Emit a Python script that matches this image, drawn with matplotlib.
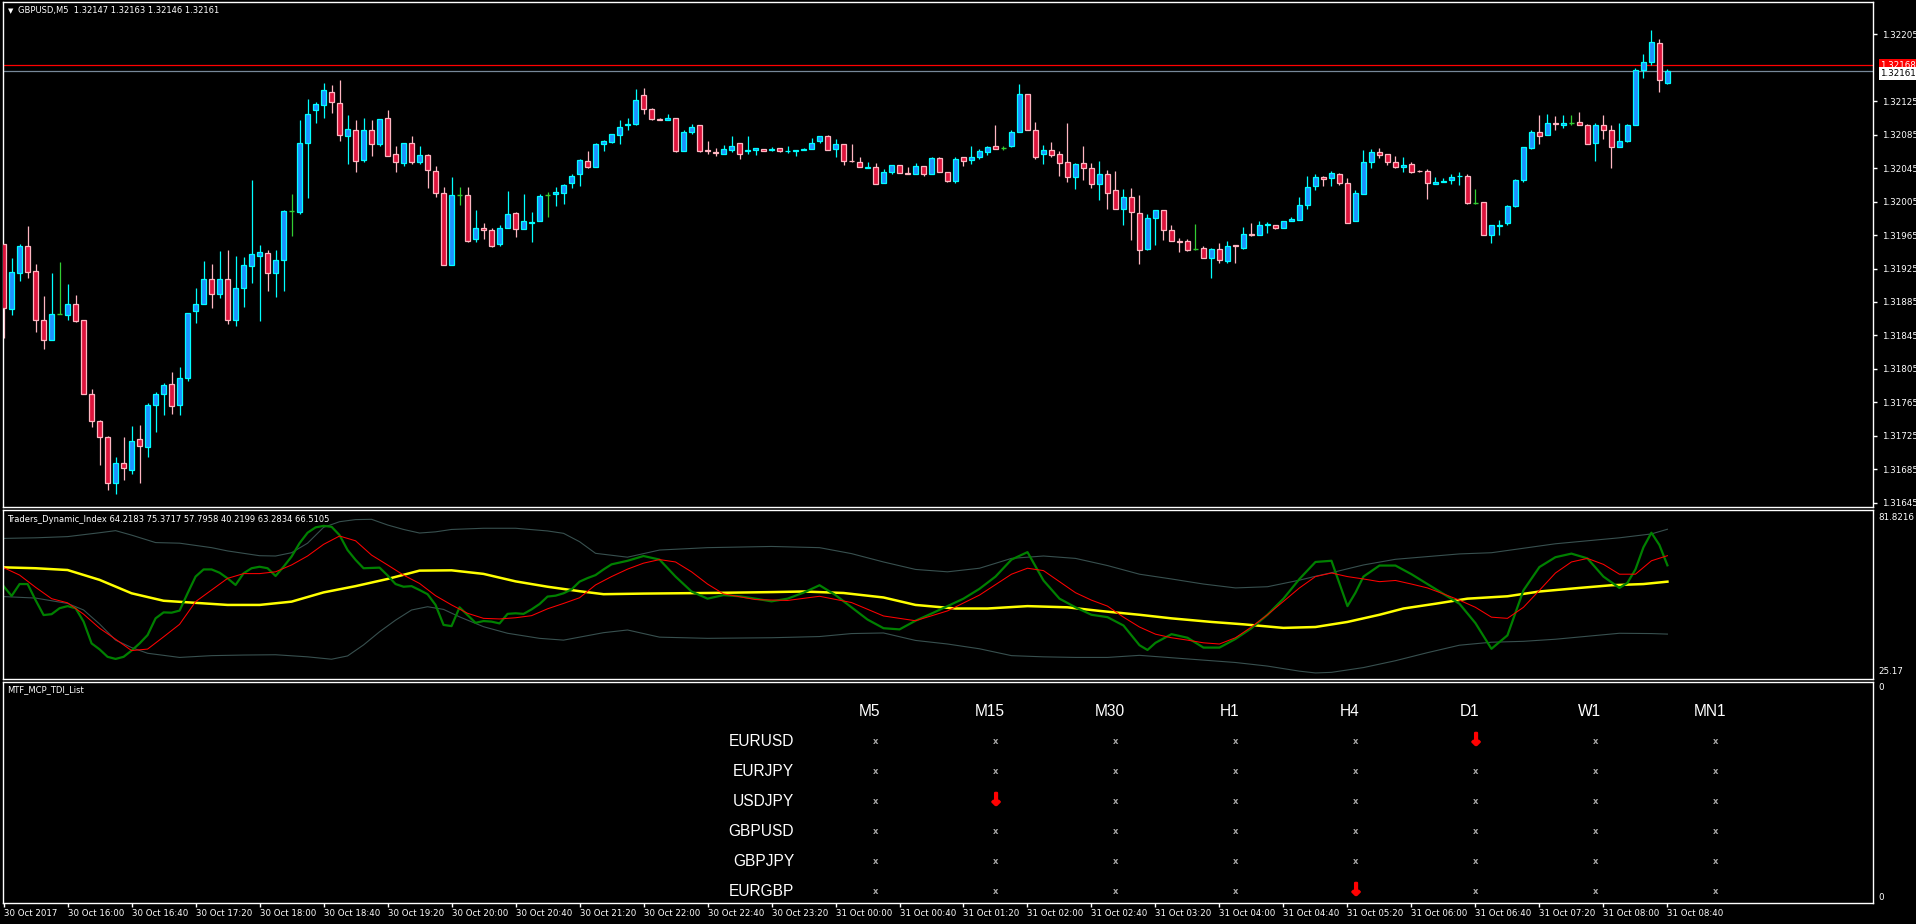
import matplotlib
matplotlib.use('Agg')
import matplotlib.pyplot as plt
import matplotlib.patheffects as pe
from matplotlib.patches import Rectangle

W, H = 1916, 924

# GBPUSD M5 bars, 30 Oct 2017 15:20 .. 31 Oct 2017 08:40
opens = [1.31954, 1.31877, 1.31920, 1.31952, 1.31922, 1.31863, 1.31839, 1.31871, 1.31870, 1.31883,
         1.31864, 1.31775, 1.31743, 1.31724, 1.31668, 1.31692, 1.31684, 1.31721, 1.31712, 1.31762,
         1.31775, 1.31787, 1.31762, 1.31794, 1.31874, 1.31882, 1.31913, 1.31895, 1.31913, 1.31864,
         1.31902, 1.31928, 1.31940, 1.31943, 1.31920, 1.31935, 1.31994, 1.31992, 1.32075, 1.32115,
         1.32121, 1.32136, 1.32123, 1.32084, 1.32091, 1.32055, 1.32091, 1.32074, 1.32105, 1.32062,
         1.32051, 1.32075, 1.32052, 1.32061, 1.32042, 1.32015, 1.31929, 1.32013, 1.32013, 1.31960,
         1.31974, 1.31971, 1.31954, 1.31974, 1.31991, 1.31972, 1.31980, 1.31982, 1.32013, 1.32014,
         1.32015, 1.32027, 1.32038, 1.32054, 1.32046, 1.32074, 1.32076, 1.32085, 1.32096, 1.32098,
         1.32132, 1.32116, 1.32104, 1.32103, 1.32105, 1.32066, 1.32088, 1.32096, 1.32067, 1.32064,
         1.32062, 1.32067, 1.32075, 1.32066, 1.32067, 1.32068, 1.32067, 1.32069, 1.32065, 1.32066,
         1.32067, 1.32068, 1.32078, 1.32084, 1.32068, 1.32074, 1.32054, 1.32052, 1.32045, 1.32046,
         1.32027, 1.32040, 1.32049, 1.32039, 1.32038, 1.32048, 1.32038, 1.32057, 1.32040, 1.32030,
         1.32058, 1.32055, 1.32058, 1.32064, 1.32072, 1.32069, 1.32072, 1.32088, 1.32134, 1.32090,
         1.32062, 1.32067, 1.32062, 1.32052, 1.32034, 1.32051, 1.32045, 1.32026, 1.32038, 1.32019,
         1.31996, 1.32010, 1.31991, 1.31948, 1.31985, 1.31995, 1.31971, 1.31958, 1.31958, 1.31948,
         1.31949, 1.31938, 1.31948, 1.31934, 1.31953, 1.31950, 1.31966, 1.31965, 1.31977, 1.31977,
         1.31974, 1.31982, 1.31983, 1.32001, 1.32024, 1.32034, 1.32033, 1.32038, 1.32027, 1.31982,
         1.32014, 1.32052, 1.32064, 1.32062, 1.32052, 1.32046, 1.32050, 1.32042, 1.32042, 1.32026,
         1.32029, 1.32031, 1.32035, 1.32036, 1.32003, 1.32004, 1.31965, 1.31976, 1.31979, 1.32000,
         1.32031, 1.32069, 1.32088, 1.32085, 1.32099, 1.32097, 1.32099, 1.32100, 1.32096, 1.32075,
         1.32097, 1.32090, 1.32070, 1.32078, 1.32097, 1.32162, 1.32172, 1.32195, 1.32147]
highs = [1.31954, 1.31938, 1.31954, 1.31976, 1.31930, 1.31892, 1.31920, 1.31933, 1.31906, 1.31893,
         1.31864, 1.31781, 1.31744, 1.31725, 1.31700, 1.31723, 1.31737, 1.31738, 1.31764, 1.31777,
         1.31788, 1.31801, 1.31807, 1.31872, 1.31902, 1.31934, 1.31930, 1.31946, 1.31947, 1.31940,
         1.31939, 1.32031, 1.31953, 1.31947, 1.31947, 1.31995, 1.32014, 1.32103, 1.32128, 1.32124,
         1.32147, 1.32144, 1.32150, 1.32109, 1.32102, 1.32105, 1.32103, 1.32104, 1.32115, 1.32072,
         1.32075, 1.32083, 1.32072, 1.32062, 1.32048, 1.32022, 1.32034, 1.32022, 1.32022, 1.31995,
         1.31980, 1.31974, 1.31977, 1.32018, 1.31992, 1.32014, 1.31992, 1.32014, 1.32017, 1.32023,
         1.32026, 1.32038, 1.32056, 1.32065, 1.32075, 1.32079, 1.32086, 1.32102, 1.32105, 1.32140,
         1.32141, 1.32117, 1.32105, 1.32110, 1.32105, 1.32090, 1.32098, 1.32097, 1.32078, 1.32069,
         1.32073, 1.32084, 1.32075, 1.32084, 1.32069, 1.32068, 1.32070, 1.32069, 1.32072, 1.32067,
         1.32069, 1.32081, 1.32084, 1.32085, 1.32080, 1.32074, 1.32074, 1.32058, 1.32052, 1.32051,
         1.32044, 1.32049, 1.32049, 1.32046, 1.32051, 1.32048, 1.32058, 1.32058, 1.32040, 1.32058,
         1.32058, 1.32072, 1.32068, 1.32072, 1.32097, 1.32072, 1.32090, 1.32146, 1.32134, 1.32100,
         1.32073, 1.32076, 1.32066, 1.32099, 1.32051, 1.32072, 1.32051, 1.32054, 1.32043, 1.32042,
         1.32020, 1.32021, 1.32013, 1.31990, 1.31995, 1.31995, 1.31977, 1.31961, 1.31960, 1.31978,
         1.31952, 1.31949, 1.31955, 1.31958, 1.31953, 1.31975, 1.31980, 1.31982, 1.31981, 1.31977,
         1.31982, 1.31987, 1.32010, 1.32036, 1.32038, 1.32036, 1.32041, 1.32039, 1.32033, 1.32019,
         1.32067, 1.32068, 1.32069, 1.32062, 1.32060, 1.32058, 1.32052, 1.32043, 1.32044, 1.32034,
         1.32033, 1.32038, 1.32040, 1.32038, 1.32020, 1.32004, 1.31977, 1.31983, 1.32001, 1.32032,
         1.32070, 1.32090, 1.32109, 1.32110, 1.32107, 1.32108, 1.32109, 1.32112, 1.32098, 1.32099,
         1.32109, 1.32097, 1.32099, 1.32098, 1.32165, 1.32182, 1.32210, 1.32199, 1.32163]
lows = [1.31842, 1.31869, 1.31910, 1.31914, 1.31849, 1.31829, 1.31839, 1.31871, 1.31864, 1.31861,
        1.31775, 1.31736, 1.31690, 1.31660, 1.31656, 1.31672, 1.31679, 1.31668, 1.31700, 1.31730,
        1.31750, 1.31751, 1.31750, 1.31791, 1.31860, 1.31882, 1.31878, 1.31890, 1.31859, 1.31856,
        1.31879, 1.31908, 1.31862, 1.31898, 1.31891, 1.31898, 1.31964, 1.31990, 1.32009, 1.32099,
        1.32105, 1.32111, 1.32078, 1.32050, 1.32040, 1.32052, 1.32060, 1.32072, 1.32060, 1.32040,
        1.32047, 1.32050, 1.32050, 1.32021, 1.32011, 1.31929, 1.31929, 1.32001, 1.31957, 1.31957,
        1.31960, 1.31951, 1.31952, 1.31973, 1.31963, 1.31972, 1.31957, 1.31982, 1.31987, 1.32000,
        1.32002, 1.32021, 1.32024, 1.32045, 1.32046, 1.32065, 1.32075, 1.32074, 1.32090, 1.32096,
        1.32110, 1.32103, 1.32102, 1.32102, 1.32064, 1.32066, 1.32086, 1.32064, 1.32062, 1.32060,
        1.32062, 1.32064, 1.32056, 1.32062, 1.32061, 1.32066, 1.32066, 1.32064, 1.32063, 1.32060,
        1.32067, 1.32068, 1.32075, 1.32067, 1.32058, 1.32049, 1.32052, 1.32046, 1.32045, 1.32026,
        1.32027, 1.32038, 1.32039, 1.32038, 1.32038, 1.32036, 1.32038, 1.32040, 1.32028, 1.32027,
        1.32048, 1.32050, 1.32056, 1.32061, 1.32068, 1.32067, 1.32070, 1.32088, 1.32090, 1.32056,
        1.32050, 1.32058, 1.32036, 1.32028, 1.32020, 1.32031, 1.32021, 1.32007, 1.31996, 1.31996,
        1.31977, 1.31959, 1.31930, 1.31947, 1.31953, 1.31959, 1.31958, 1.31945, 1.31946, 1.31947,
        1.31937, 1.31914, 1.31932, 1.31932, 1.31932, 1.31948, 1.31964, 1.31965, 1.31967, 1.31972,
        1.31973, 1.31982, 1.31983, 1.31996, 1.32019, 1.32024, 1.32024, 1.32025, 1.31980, 1.31982,
        1.32014, 1.32045, 1.32057, 1.32049, 1.32045, 1.32040, 1.32039, 1.32040, 1.32008, 1.32026,
        1.32028, 1.32026, 1.32025, 1.32002, 1.32002, 1.31965, 1.31956, 1.31965, 1.31977, 1.31998,
        1.32028, 1.32068, 1.32074, 1.32085, 1.32090, 1.32093, 1.32097, 1.32096, 1.32074, 1.32054,
        1.32080, 1.32045, 1.32070, 1.32076, 1.32097, 1.32153, 1.32168, 1.32136, 1.32146]
closes = [1.31878, 1.31921, 1.31952, 1.31921, 1.31863, 1.31840, 1.31871, 1.31871, 1.31883, 1.31862,
          1.31775, 1.31743, 1.31724, 1.31668, 1.31692, 1.31686, 1.31719, 1.31713, 1.31762, 1.31775,
          1.31786, 1.31761, 1.31794, 1.31872, 1.31882, 1.31913, 1.31895, 1.31913, 1.31863, 1.31902,
          1.31929, 1.31942, 1.31945, 1.31920, 1.31935, 1.31994, 1.31994, 1.32075, 1.32110, 1.32122,
          1.32138, 1.32124, 1.32085, 1.32092, 1.32054, 1.32091, 1.32074, 1.32104, 1.32060, 1.32052,
          1.32075, 1.32052, 1.32061, 1.32043, 1.32015, 1.31929, 1.32013, 1.32013, 1.31958, 1.31973,
          1.31971, 1.31952, 1.31974, 1.31990, 1.31972, 1.31982, 1.31981, 1.32012, 1.32013, 1.32016,
          1.32025, 1.32036, 1.32055, 1.32046, 1.32074, 1.32078, 1.32086, 1.32094, 1.32098, 1.32126,
          1.32116, 1.32104, 1.32103, 1.32105, 1.32066, 1.32088, 1.32094, 1.32066, 1.32065, 1.32063,
          1.32068, 1.32072, 1.32062, 1.32067, 1.32069, 1.32066, 1.32068, 1.32066, 1.32066, 1.32067,
          1.32068, 1.32075, 1.32084, 1.32067, 1.32074, 1.32054, 1.32053, 1.32046, 1.32046, 1.32026,
          1.32040, 1.32049, 1.32039, 1.32038, 1.32048, 1.32038, 1.32057, 1.32040, 1.32030, 1.32056,
          1.32054, 1.32058, 1.32066, 1.32070, 1.32068, 1.32069, 1.32088, 1.32134, 1.32090, 1.32058,
          1.32067, 1.32061, 1.32051, 1.32034, 1.32050, 1.32045, 1.32026, 1.32038, 1.32015, 1.31996,
          1.32010, 1.31992, 1.31947, 1.31985, 1.31995, 1.31971, 1.31958, 1.31957, 1.31947, 1.31948,
          1.31938, 1.31948, 1.31935, 1.31952, 1.31952, 1.31966, 1.31965, 1.31977, 1.31978, 1.31974,
          1.31982, 1.31984, 1.32001, 1.32022, 1.32034, 1.32032, 1.32039, 1.32027, 1.31980, 1.32015,
          1.32052, 1.32064, 1.32061, 1.32052, 1.32046, 1.32049, 1.32040, 1.32041, 1.32027, 1.32028,
          1.32030, 1.32034, 1.32036, 1.32003, 1.32003, 1.31965, 1.31977, 1.31977, 1.32000, 1.32031,
          1.32070, 1.32088, 1.32084, 1.32099, 1.32098, 1.32099, 1.32099, 1.32096, 1.32074, 1.32096,
          1.32090, 1.32070, 1.32078, 1.32097, 1.32162, 1.32172, 1.32196, 1.32150, 1.32161]

bid = 1.32161
ask = 1.32168
price_ticks = [1.32205, 1.32125, 1.32085, 1.32045, 1.32005, 1.31965, 1.31925, 1.31885,
               1.31845, 1.31805, 1.31765, 1.31725, 1.31685, 1.31645]

# Traders Dynamic Index (bar index, value)
green_bars = [0, 1, 2, 3, 4, 5, 6, 7, 8, 9, 10, 11, 12, 13, 14, 15, 16, 17, 18, 19,
              20, 21, 22, 23, 24, 25, 26, 27, 28, 29, 30, 31, 32, 33, 34, 35, 36, 37, 38, 39,
              40, 41, 42, 43, 44, 45, 46, 47, 48, 49, 50, 51, 52, 53, 54, 55, 56, 57, 58, 59,
              60, 61, 62, 63, 64, 65, 66, 67, 68, 69, 70, 71, 72, 73, 74, 75,
              76, 78, 80, 82, 84, 86, 88, 90, 92, 94, 96, 98, 100, 102, 104, 106, 108, 110,
              112, 114, 116, 118, 120, 122, 124, 126, 128, 130, 132, 134, 136, 138, 140, 142,
              143, 144, 146, 148, 150, 152, 154, 156, 158, 160, 162, 164, 166, 168, 169, 170,
              172, 174, 176, 178, 180, 182, 184, 186, 188, 190, 192, 194, 196, 198, 200, 202,
              203, 204, 205, 206, 207, 208]
green_vals = [56.3, 53.0, 57.0, 57.0, 51.6, 46.6, 46.9, 48.9, 49.6, 48.9,
              44.4, 37.1, 35.1, 32.6, 31.9, 32.6, 34.7, 37.1, 39.9, 45.5,
              47.5, 47.4, 48.1, 53.9, 59.5, 61.9, 61.9, 60.8, 58.9, 56.7,
              60.6, 62.3, 62.8, 62.3, 59.7, 62.8, 66.2, 70.7, 74.2, 76.0,
              76.5, 76.2, 73.4, 68.4, 65.1, 62.3, 62.4, 62.5, 59.9, 57.0,
              56.1, 56.3, 55.0, 53.6, 50.0, 43.3, 42.9, 49.2, 46.6, 44.0,
              44.6, 44.4, 43.8, 47.0, 47.2, 47.0, 48.5, 50.3, 52.8, 53.1,
              53.9, 55.2, 57.8, 59.0, 60.0, 61.9,
              63.6, 64.8, 66.4, 65.2, 59.5, 54.5, 52.1, 53.3, 52.9, 52.1, 51.2, 52.1, 54.1, 56.6,
              53.3, 49.2, 45.1, 42.2, 41.8, 44.7, 47.1, 49.6, 52.1, 55.4, 59.5, 65.2, 67.7, 58.2,
              52.1, 49.2, 46.7, 45.9, 43.1, 36.5, 34.9, 37.3, 40.2, 39.0, 35.7, 35.7, 38.6, 42.2,
              46.7, 52.1, 58.7, 64.4, 64.8, 49.6, 54.1, 59.5, 63.2, 63.2, 60.3, 57.0, 53.7, 50.4,
              43.9, 35.3, 39.8, 54.9, 62.7, 66.0, 67.2, 65.6, 59.5, 55.7, 57.4, 61.9, 69.3, 74.2,
              70.1, 63.28]

red_bars = [0, 2, 4, 6, 8, 10, 12, 14, 16, 18, 20, 22, 24, 26, 28, 30, 32, 34, 36, 38,
            40, 42, 44, 46, 48, 50, 52, 54, 56, 58, 60, 62, 64, 66, 68, 70, 72, 74, 76, 78,
            80, 82, 84, 86, 88, 90, 94, 98, 102, 106, 110, 114, 118, 122, 126, 128, 130, 132,
            134, 136, 138, 140, 142, 144, 146, 148, 150, 152, 154, 156, 158, 160, 162, 164,
            166, 168, 170, 172, 174, 176, 178, 180, 182, 184, 186, 188, 190, 192, 194, 196,
            198, 200, 202, 204, 206, 208]
red_vals = [62.5, 60.0, 55.9, 52.1, 50.7, 46.9, 42.2, 38.5, 34.7, 35.2, 39.3, 43.5, 51.1, 55.0,
            58.9, 60.5, 60.5, 61.1, 63.4, 66.4, 70.3, 73.1, 71.5, 66.7, 63.4, 60.0, 57.2, 53.1,
            50.0, 47.2, 45.5, 45.3, 45.7, 46.4, 48.7, 50.5, 52.4, 56.7, 59.5, 62.0, 64.0, 65.2,
            64.4, 61.1, 57.0, 53.7, 51.8, 51.5, 52.9, 50.8, 46.3, 44.7, 48.0, 53.3, 60.3, 62.3,
            61.5, 57.8, 54.1, 51.6, 49.6, 45.9, 42.6, 40.2, 39.0, 38.2, 37.3, 36.9, 39.0, 42.6,
            46.7, 51.2, 55.7, 59.5, 60.7, 59.5, 58.7, 57.8, 58.2, 57.0, 55.7, 53.7, 51.6, 49.2,
            45.9, 45.5, 49.2, 54.9, 60.7, 64.4, 65.6, 63.6, 60.3, 60.3, 64.8, 66.51]

mid_bars = [0, 4, 8, 12, 16, 20, 24, 28, 32, 36, 40, 44, 48, 52, 56, 60, 64, 68, 72, 75,
            80, 88, 96, 100, 105, 110, 114, 119, 123, 128, 133, 137, 142, 146, 151, 155, 160,
            164, 168, 172, 175, 179, 183, 188, 192, 197, 201, 205, 208]
mid_vals = [62.6, 62.3, 61.7, 58.4, 53.9, 51.4, 50.7, 50.0, 50.0, 51.1, 54.2, 56.3, 58.7, 61.5,
            61.6, 60.4, 57.9, 56.1, 54.6, 53.6, 53.8, 54.0, 54.3, 54.5, 54.0, 52.5, 50.0, 48.8,
            48.8, 49.6, 49.2, 48.0, 46.7, 45.5, 44.3, 43.5, 42.3, 42.6, 44.3, 46.7, 48.8, 50.4,
            52.1, 52.9, 54.5, 55.7, 56.6, 57.0, 57.80]

upper_bars = [0, 4, 8, 12, 14, 16, 19, 22, 26, 28, 32, 34, 36, 38, 40, 42, 44, 46, 48, 50,
              52, 54, 56, 60, 64, 68, 70, 72, 74, 78, 82, 88, 96, 102, 106, 110, 114, 118, 122,
              126, 130, 134, 138, 142, 146, 150, 154, 158, 162, 164, 166, 170, 174, 178, 182,
              186, 190, 194, 198, 202, 206, 208]
upper_vals = [72.3, 72.5, 72.9, 74.2, 74.9, 73.4, 70.9, 70.7, 69.2, 68.1, 66.5, 66.4, 67.5, 70.7,
              76.0, 77.9, 78.6, 78.7, 76.8, 75.3, 74.1, 74.5, 75.3, 75.7, 75.7, 74.8, 74.0, 71.2,
              67.3, 66.0, 68.4, 69.2, 69.6, 69.2, 67.2, 64.4, 61.9, 61.1, 62.3, 65.6, 66.4, 65.6,
              63.2, 60.3, 58.7, 57.0, 55.7, 56.1, 58.3, 59.6, 60.8, 63.4, 65.3, 66.2, 67.1, 67.5,
              69.0, 70.5, 71.5, 72.5, 73.8, 75.37]

lower_bars = [0, 4, 8, 10, 12, 14, 16, 18, 22, 26, 30, 34, 38, 41, 43, 45, 47, 49, 51, 53,
              55, 57, 60, 63, 67, 70, 73, 75, 78, 82, 88, 96, 102, 106, 110, 114, 118, 122, 126,
              130, 134, 138, 142, 146, 150, 154, 158, 162, 164, 166, 170, 174, 178, 182, 186,
              190, 194, 198, 202, 206, 208]
lower_vals = [52.8, 52.3, 50.5, 48.3, 43.6, 38.2, 35.7, 33.8, 32.4, 33.0, 33.2, 33.3, 32.6, 31.8,
              32.9, 36.6, 41.0, 44.9, 48.3, 49.4, 48.5, 46.0, 42.7, 40.5, 38.8, 38.2, 39.7, 40.7,
              41.6, 39.2, 38.8, 39.0, 39.4, 40.4, 40.6, 38.1, 36.9, 35.3, 33.0, 32.6, 32.4, 32.4,
              33.1, 32.3, 31.5, 30.7, 29.5, 27.8, 27.2, 27.4, 29.0, 31.3, 34.0, 36.5, 37.5, 37.8,
              38.5, 39.5, 40.5, 40.4, 40.22]
tdi_min, tdi_max = 25.17, 81.8216

# MTF table
symbols = ['EURUSD', 'EURJPY', 'USDJPY', 'GBPUSD', 'GBPJPY', 'EURGBP']
timeframes = ['M5', 'M15', 'M30', 'H1', 'H4', 'D1', 'W1', 'MN1']
down_signals = [('EURUSD', 'D1'), ('USDJPY', 'M15'), ('EURGBP', 'H4')]

time_labels = ['30 Oct 2017', '30 Oct 16:00', '30 Oct 16:40', '30 Oct 17:20', '30 Oct 18:00',
               '30 Oct 18:40', '30 Oct 19:20', '30 Oct 20:00', '30 Oct 20:40', '30 Oct 21:20',
               '30 Oct 22:00', '30 Oct 22:40', '30 Oct 23:20', '31 Oct 00:00', '31 Oct 00:40',
               '31 Oct 01:20', '31 Oct 02:00', '31 Oct 02:40', '31 Oct 03:20', '31 Oct 04:00',
               '31 Oct 04:40', '31 Oct 05:20', '31 Oct 06:00', '31 Oct 06:40', '31 Oct 07:20',
               '31 Oct 08:00', '31 Oct 08:40']

FONT = 'DejaVu Sans'
SMALL = 6.0
BULL_FILL, BULL_EDGE = '#1E90FF', '#00FFFF'
BEAR_FILL, BEAR_EDGE = '#DC143C', '#FFB6C1'
DOJI = '#32CD32'

fig = plt.figure(figsize=(W / 100, H / 100), dpi=100, facecolor='black')


def px_axes(x0, y0, x1, y1):
    a = fig.add_axes([x0 / W, 1 - y1 / H, (x1 - x0) / W, (y1 - y0) / H])
    a.set_facecolor('black')
    for s in a.spines.values():
        s.set_color('white')
        s.set_linewidth(1)
    a.tick_params(colors='white', labelcolor='white', length=3, width=1, direction='out',
                  labelsize=6.3)
    a.set_xlim(-0.075, 233.7)
    return a


def ftext(x, y, s, **kw):
    kw.setdefault('color', 'white')
    kw.setdefault('fontsize', SMALL)
    kw.setdefault('family', FONT)
    return fig.text(x / W, 1 - y / H, s, **kw)


# ---- price pane
ax = px_axes(3, 2, 1873, 507)
ax.set_ylim(1.316399, 1.322436)
for i in range(len(opens)):
    o, h, l, c = opens[i], highs[i], lows[i], closes[i]
    if c > o:
        fill, edge = BULL_FILL, BULL_EDGE
    elif c < o:
        fill, edge = BEAR_FILL, BEAR_EDGE
    else:
        fill, edge = DOJI, DOJI
    ax.vlines(i, l, h, color=edge, lw=0.9, zorder=2)
    if c == o:
        ax.hlines(o, i - 0.35, i + 0.35, color=DOJI, lw=1, zorder=3)
    else:
        ax.add_patch(Rectangle((i - 0.32, min(o, c)), 0.64, abs(c - o), facecolor=fill,
                               edgecolor=edge, lw=0.9, zorder=3))
ax.axhline(ask, color='#FF0000', lw=0.9, zorder=1)
ax.axhline(bid, color='#778899', lw=0.9, zorder=1)
ax.yaxis.tick_right()
ax.set_yticks(price_ticks)
ax.set_yticklabels([f'{p:.5f}' for p in price_ticks], family=FONT)
ax.set_xticks([])
ax.text(1.004, ask, f'{ask:.5f}', transform=ax.get_yaxis_transform(), color='white',
        fontsize=6.3, family=FONT, va='center', ha='left',
        bbox=dict(facecolor='#FF0000', edgecolor='none', pad=1.2))
ax.text(1.004, bid - 0.00003, f'{bid:.5f}', transform=ax.get_yaxis_transform(), color='black',
        fontsize=6.3, family=FONT, va='center', ha='left',
        bbox=dict(facecolor='white', edgecolor='none', pad=1.2))
ftext(8, 11, '\u25BC', fontsize=5, va='center')
ftext(18, 11, f'GBPUSD,M5  {opens[-1]:.5f} {highs[-1]:.5f} {lows[-1]:.5f} {closes[-1]:.5f}',
      va='center')

# ---- TDI pane
ax2 = px_axes(3, 510, 1873, 679)
ax2.set_ylim(tdi_min, tdi_max)
ax2.plot(upper_bars, upper_vals, color='#38504F', lw=0.8)
ax2.plot(lower_bars, lower_vals, color='#38504F', lw=0.8)
ax2.plot(mid_bars, mid_vals, color='#FFFF00', lw=1.8)
ax2.plot(green_bars, green_vals, color='#008000', lw=1.6)
ax2.plot(red_bars, red_vals, color='#FF0000', lw=0.75)
ax2.set_xticks([])
ax2.set_yticks([])
ftext(1878, 517, f'{tdi_max:.4f}', va='center', fontsize=6.3)
ftext(1878, 672, f'{tdi_min:.2f}', va='center', fontsize=6.3)
ftext(7, 519, 'Traders_Dynamic_Index 64.2183 75.3717 57.7958 40.2199 63.2834 66.5105',
      va='center')

# ---- MTF list pane
ax3 = px_axes(3, 682, 1873, 903)
ax3.set_yticks([])
ax3.set_xticks(range(0, 209, 8))
ax3.set_xticklabels(time_labels, family=FONT, fontsize=6.2, ha='left')
ax3.tick_params(axis='x', pad=1)
ftext(1878, 688, '0', va='center', fontsize=6.3)
ftext(1878, 897, '0', va='center', fontsize=6.3)
ftext(7, 690, 'MTF_MCP_TDI_List', va='center')

col_x0, col_dx = 870, 120
row_y0, row_dy = 741, 30
for j, tf in enumerate(timeframes):
    ftext(col_x0 + col_dx * j, 712, tf, family='Liberation Sans', fontsize=11.2,
          ha='center', va='center')
for r, sym in enumerate(symbols):
    y = row_y0 + row_dy * r
    ftext(794, y, sym, family='Liberation Sans', fontsize=11.2, ha='right', va='center')
    for j, tf in enumerate(timeframes):
        x = col_x0 + col_dx * j + 6
        if (sym, tf) in down_signals:
            ftext(x, y - 1, '\u2193', color='#FF0000', fontsize=12, fontweight='bold',
                  ha='center', va='center',
                  path_effects=[pe.withStroke(linewidth=1.6, foreground='#FF0000')])
        else:
            ftext(x, y, 'x', color='#A8A8A8', fontsize=6, fontweight='bold',
                  ha='center', va='center')

fig.savefig('out.png', dpi=100, facecolor='black')
